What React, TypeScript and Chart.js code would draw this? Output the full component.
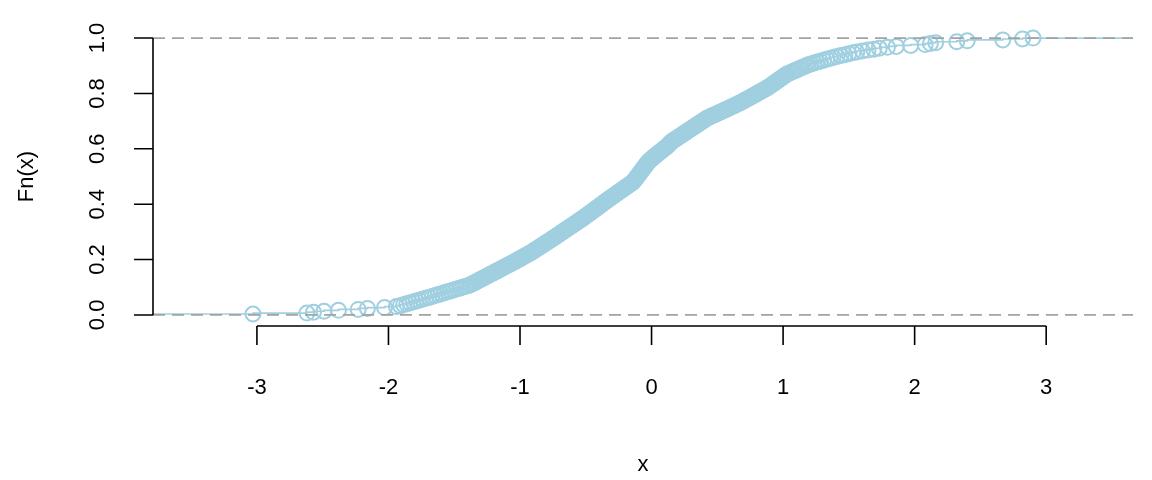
import { useEffect, useRef } from "react";
import { Chart, registerables } from "chart.js";

Chart.register(...registerables);

// Sorted sample values read from the ECDF (n = 300)
const sampleX: number[] = [
  -3.03, -2.62, -2.57, -2.49, -2.38, -2.23, -2.16, -2.03, -1.94, -1.91,
  -1.885, -1.861, -1.837, -1.813, -1.789, -1.765, -1.741, -1.716, -1.692, -1.668,
  -1.644, -1.621, -1.598, -1.575, -1.551, -1.528, -1.505, -1.482, -1.459, -1.436,
  -1.412, -1.389, -1.372, -1.358, -1.345, -1.332, -1.318, -1.305, -1.291, -1.278,
  -1.264, -1.251, -1.238, -1.224, -1.211, -1.197, -1.184, -1.17, -1.157, -1.143,
  -1.13, -1.117, -1.103, -1.09, -1.077, -1.063, -1.05, -1.037, -1.025, -1.012,
  -0.999, -0.986, -0.974, -0.961, -0.948, -0.935, -0.923, -0.911, -0.9, -0.89,
  -0.879, -0.868, -0.857, -0.846, -0.835, -0.824, -0.813, -0.803, -0.792, -0.781,
  -0.77, -0.76, -0.749, -0.739, -0.728, -0.718, -0.707, -0.697, -0.687, -0.676,
  -0.666, -0.655, -0.645, -0.635, -0.624, -0.614, -0.603, -0.593, -0.582, -0.572,
  -0.562, -0.551, -0.541, -0.53, -0.52, -0.51, -0.501, -0.491, -0.482, -0.472,
  -0.463, -0.453, -0.444, -0.434, -0.425, -0.415, -0.406, -0.396, -0.387, -0.377,
  -0.368, -0.358, -0.349, -0.339, -0.33, -0.32, -0.31, -0.3, -0.29, -0.28,
  -0.27, -0.26, -0.25, -0.24, -0.23, -0.22, -0.21, -0.2, -0.19, -0.18,
  -0.17, -0.16, -0.15, -0.14, -0.135, -0.13, -0.124, -0.119, -0.114, -0.109,
  -0.103, -0.098, -0.093, -0.088, -0.082, -0.077, -0.072, -0.066, -0.061, -0.056,
  -0.051, -0.045, -0.04, -0.035, -0.03, -0.023, -0.017, -0.01, -0.001, 0.007,
  0.016, 0.025, 0.033, 0.042, 0.051, 0.059, 0.068, 0.077, 0.085, 0.094,
  0.103, 0.111, 0.12, 0.127, 0.133, 0.14, 0.147, 0.155, 0.166, 0.176,
  0.187, 0.198, 0.208, 0.219, 0.229, 0.24, 0.25, 0.261, 0.272, 0.282,
  0.293, 0.303, 0.314, 0.325, 0.335, 0.346, 0.356, 0.367, 0.378, 0.388,
  0.399, 0.409, 0.42, 0.435, 0.45, 0.465, 0.481, 0.496, 0.511, 0.526,
  0.541, 0.556, 0.572, 0.587, 0.602, 0.617, 0.632, 0.647, 0.662, 0.676,
  0.689, 0.702, 0.714, 0.727, 0.74, 0.753, 0.765, 0.778, 0.791, 0.803,
  0.816, 0.829, 0.842, 0.854, 0.867, 0.88, 0.89, 0.9, 0.91, 0.92,
  0.93, 0.94, 0.95, 0.96, 0.97, 0.98, 0.99, 1.0, 1.01, 1.02,
  1.03, 1.046, 1.062, 1.079, 1.095, 1.111, 1.127, 1.143, 1.16, 1.176,
  1.192, 1.212, 1.236, 1.26, 1.284, 1.308, 1.332, 1.356, 1.38, 1.41,
  1.44, 1.47, 1.5, 1.53, 1.56, 1.603, 1.646, 1.689, 1.731, 1.793,
  1.86, 1.97, 2.08, 2.12, 2.16, 2.32, 2.4, 2.67, 2.82, 2.9,
];

const xTicks: number[] = [-3, -2, -1, 0, 1, 2, 3];
const xTickLabels: string[] = ["-3", "-2", "-1", "0", "1", "2", "3"];
const yTicks: number[] = [0, 0.2, 0.4, 0.6, 0.8, 1.0];
const yTickLabels: string[] = ["0.0", "0.2", "0.4", "0.6", "0.8", "1.0"];
const refLines: number[] = [0, 1];
const xLimits: number[] = [-3.79, 3.66];
const yLimits: number[] = [-0.04, 1.04];
const xTitle = "x";
const yTitle = "Fn(x)";

const BLUE = "rgb(160,207,224)";
const FONT = '22px "Liberation Sans", Arial, Helvetica, sans-serif';

const rAxesPlugin = {
  id: "rAxes",
  afterDatasetsDraw(chart: any) {
    const { ctx, chartArea: a, scales } = chart;
    const xs = scales.x;
    const ys = scales.y;
    // dashed reference lines
    ctx.save();
    ctx.strokeStyle = "#A3A3A3";
    ctx.lineWidth = 1.7;
    ctx.setLineDash([12, 7]);
    for (const h of refLines) {
      const py = ys.getPixelForValue(h);
      ctx.beginPath();
      ctx.moveTo(a.left, py);
      ctx.lineTo(a.right, py);
      ctx.stroke();
    }
    ctx.restore();

    ctx.save();
    ctx.strokeStyle = "#000";
    ctx.fillStyle = "#000";
    ctx.lineWidth = 1.6;
    ctx.setLineDash([]);
    ctx.font = FONT;
    // x axis
    const xb = a.bottom;
    const x0 = xs.getPixelForValue(xTicks[0]);
    const x1 = xs.getPixelForValue(xTicks[xTicks.length - 1]);
    ctx.beginPath();
    ctx.moveTo(x0, xb);
    ctx.lineTo(x1, xb);
    xTicks.forEach((t) => {
      const px = xs.getPixelForValue(t);
      ctx.moveTo(px, xb);
      ctx.lineTo(px, xb + 19);
    });
    ctx.stroke();
    ctx.textAlign = "center";
    ctx.textBaseline = "middle";
    xTicks.forEach((t, i) => {
      ctx.fillText(xTickLabels[i], xs.getPixelForValue(t), xb + 62);
    });
    // y axis
    const yl = a.left;
    const y0 = ys.getPixelForValue(yTicks[0]);
    const y1 = ys.getPixelForValue(yTicks[yTicks.length - 1]);
    ctx.beginPath();
    ctx.moveTo(yl, y0);
    ctx.lineTo(yl, y1);
    yTicks.forEach((t) => {
      const py = ys.getPixelForValue(t);
      ctx.moveTo(yl, py);
      ctx.lineTo(yl - 19, py);
    });
    ctx.stroke();
    yTicks.forEach((t, i) => {
      ctx.save();
      ctx.translate(yl - 55, ys.getPixelForValue(t));
      ctx.rotate(-Math.PI / 2);
      ctx.fillText(yTickLabels[i], 0, 0);
      ctx.restore();
    });
    // titles
    ctx.fillText(xTitle, (a.left + a.right) / 2, 465);
    ctx.save();
    ctx.translate(27, (a.top + a.bottom) / 2);
    ctx.rotate(-Math.PI / 2);
    ctx.fillText(yTitle, 0, 0);
    ctx.restore();
    ctx.restore();
  },
};

export default function App() {
  const canvasRef = useRef<HTMLCanvasElement | null>(null);

  useEffect(() => {
    if (!canvasRef.current) return;
    const n = sampleX.length;
    const points = sampleX.map((v, i) => ({ x: v, y: (i + 1) / n }));
    const stepLine = [
      { x: xLimits[0], y: 0 },
      ...points,
      { x: xLimits[1], y: 1 },
    ];
    const chart = new Chart(canvasRef.current, {
      type: "scatter",
      data: {
        datasets: [
          {
            data: points,
            showLine: false,
            pointStyle: "circle",
            pointRadius: 7.5,
            pointBorderWidth: 2,
            pointBackgroundColor: "rgba(0,0,0,0)",
            pointBorderColor: BLUE,
            borderColor: BLUE,
          },
          {
            data: stepLine,
            showLine: true,
            stepped: "after",
            borderColor: BLUE,
            borderWidth: 1.7,
            pointRadius: 0,
            fill: false,
          },
        ],
      },
      options: {
        animation: false,
        responsive: false,
        devicePixelRatio: 1,
        layout: { padding: { left: 153, right: 19, top: 27, bottom: 154 } },
        plugins: {
          legend: { display: false },
          tooltip: { enabled: false },
          title: { display: false },
        },
        scales: {
          x: { type: "linear", min: xLimits[0], max: xLimits[1], display: false },
          y: { type: "linear", min: yLimits[0], max: yLimits[1], display: false },
        },
      },
      plugins: [rAxesPlugin],
    });
    return () => chart.destroy();
  }, []);

  return (
    <div style={{ position: "absolute", left: 0, top: 0, width: 1152, height: 480, background: "#fff" }}>
      <canvas ref={canvasRef} width={1152} height={480} style={{ display: "block" }} />
    </div>
  );
}
